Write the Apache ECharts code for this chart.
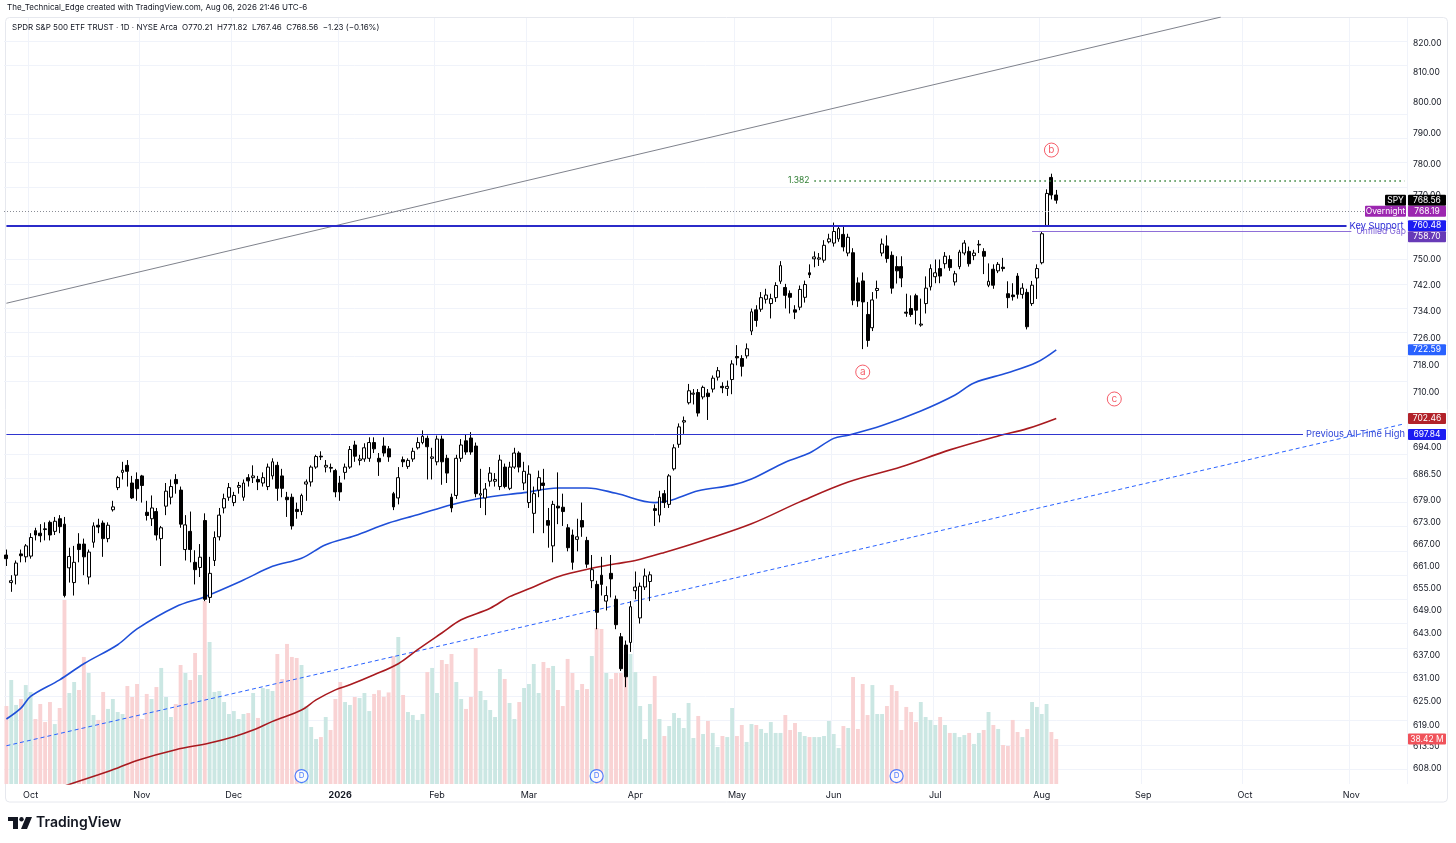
<!DOCTYPE html>
<html><head><meta charset="utf-8">
<script src="https://cdn.jsdelivr.net/npm/echarts@6/dist/echarts.min.js"></script>
<style>html,body{margin:0;padding:0;background:#fff}#c{width:1456px;height:843px}</style>
</head><body><div id="c"></div>
<script>
const FONT = 'Inter, "Noto Sans", sans-serif';
// ---------------- data ----------------
const open = [664,656.5,658.5,664.3,663.5,663.7,670.7,670,671.2,673,
670.5,674,672.5,660.5,656.5,667,667,658,667.5,672.2,
672.8,668.5,676.5,682.7,687,689,684,685,686,675.8,
674,676,668.5,677.5,680,685,682,665.5,670.5,662,
660.6,673.5,652.5,662.5,669,677,680,678.5,682.8,680,
685.5,685.5,685,684,683,686,689,686,680,680,
676.6,676,683.7,684.3,688.5,691.6,688.5,688.4,687.5,684,
687,688.5,694.8,690.4,690.8,691,695.5,691,694.5,693.7,
681,679.8,690.6,688.7,690.8,694,695.5,696.7,691,690,
696.5,691,680,680.5,691,696,696.8,694.5,680.6,679.8,
684.5,684.5,683,688.5,682.5,688.5,692.5,684,678.5,675.5,
682,684,673.5,666.5,677.5,677.2,671.5,669.5,668.3,673.5,
668,657,656,658.5,651.5,659,652,642,639.8,640.5,
654.3,647,655.3,656.8,676.8,675,681,678,688,695,
701.4,707,709.5,710,708.7,709.8,711,714.5,711.8,711.2,
713.8,720.6,720,720.8,728.2,734.6,734.8,737.8,736.5,738.3,
743.3,741.4,739.6,734.6,735.4,738.4,745.9,750.2,750.1,749.8,
755.5,755.1,756.4,757.8,752,752.1,742.8,743.4,733.2,729.2,
740.5,752,754.2,751.3,747.8,747.8,733.9,735,738.9,730,
736.5,741.6,744.7,747.2,748.7,750,743.1,747.8,752,752.5,
751.2,754.5,752.5,742.1,747,746.5,747.6,739.5,739.1,744.9,
739.3,739.9,736.5,744.3,749,760.6,775.8,770.21];
const high = [665.5,658.5,662.5,665.5,667,670,671.5,672.5,673,673.5,
674.5,675,674.5,666,666.5,670,668.5,665.5,673,674,
673.5,673,679,686,690,690.5,686,687,686.3,679,
680.5,677,672,684,685,686.5,683,675,676,665.3,
667,675.5,663.5,670.5,677,681,684,681.5,684.3,685,
686.5,689,686,687,689.5,691,690,688,681.5,681,
678.5,681,685,689,692,693,690.5,689.5,688,686,
689.5,694.5,696,692,695.3,697,697,692.5,697,694.5,
681.5,688.5,691.5,691,694,697,699,697.5,694,697.5,
697.5,692,681,692,696.5,697.8,698.5,695.5,688,684,
688.5,686.8,692,689.5,690,694,693,690,689,683,
687.5,688,677,679,687,681,672.5,671,674,678.5,
669,664,657,663.5,655.5,664,653,643,641,651.5,
659.5,656.5,660.3,659.5,678,681.8,682,686.5,695,701,
703,712.5,711,711,712,711,715,717.5,713,713.5,
719.5,724,721,724.5,735,736,740,741,739.5,743,
749.5,742.5,740.5,736,742,743.5,748.5,752.5,752,756,
758,761.5,760.5,760.3,758,753.5,744.5,746,737,740,
743.5,756.5,757.5,752.5,751,751,739.5,739,739.5,738,
744.8,748.5,750,750,752.3,751.3,746.5,753,756,754,
753,756,753.5,748.8,748.5,749.2,750.5,743.3,742.7,745.8,
742.7,741,743.4,748.5,758.7,772,777,771.82];
const low = [661,654,656,662,662,663,668,667.5,668,668,
669.5,670,652.5,656.5,653,662,658.5,656,666,670,
663.5,667.5,676,682,685,683,679.5,679,678.5,673.5,
672,668,661,675,678,681,671.5,662.5,662,656,
658,651.5,651,661,668,675.5,679,677.5,681,679,
683,684,682,683,682,685,679,680,674.5,671,
674,675,679,683,688,690.5,687,687,680,679,
685,688,690,689,690,690,692.5,686,691.5,690,
676.4,678,688.5,688,690,693.5,695,685,685,689,
683.5,684,675.8,679.5,690,692,692,680,677,675,
683,683,682,682.5,682,688,687,682,677,670,
680,670,666,662,672.5,672,665,660,665,669,
660.5,655,644,653,649,652.5,644,633,628.8,638,
652,645.5,654.5,651.5,672,673,677,677,687.5,694,
698,706.5,706.5,703,708,702,710,713.5,709.8,709,
709.5,718,714.7,720,727,729.5,734,736.5,732,737,
742.5,735,733.5,731.8,734.5,736.8,744.3,747.6,748,749,
755,754,755.5,752.5,751,736,735.5,722.8,723.5,728.2,
738,751,749,739.5,742.6,741.5,732.5,732.5,730.2,729.5,
733.5,740.5,742.7,742.7,747.2,746.5,742,747,751.3,747.8,
749.8,752,745.5,741.5,741,745.8,746.3,735.1,737.4,738,
738,728.7,735.8,737.9,748.5,760.5,768.8,767.46];
const close = [663,657,661.8,663.8,666.5,668.8,669.5,669.3,671,669.5,
673.3,671.8,653,663.6,662,665.5,663.5,664.8,672,671.7,
668.5,672.2,677.3,685.5,687.6,687.3,679.8,682.4,683.3,674.9,
677,669.5,671.5,681.7,683,683.8,672.5,672.3,665.5,660,
663.4,652,659,668.8,675,679.6,682.7,680.5,683.3,684,
684.6,686,684.3,685.5,688.5,690,682.5,682.5,679.3,672,
676,680.5,684.3,688.5,691.5,691.4,689,688.2,681.5,681.5,
688.5,693.5,691.6,690.8,694,695.5,693.7,690,692.5,691.4,
677.3,685.5,690,690.4,693,695.5,697.3,694.3,691.4,696.5,
690,686.8,677,691,694.8,692.8,692.8,681,681,682.3,
686.8,685,690.5,683,688.5,692.5,688.5,687.3,686.5,681,
685.5,683.3,672.2,678,677,676,666,662,669,671.7,
661.5,660,648.5,656,653,657.5,645.2,633.6,631.5,650,
655.3,655.5,658.3,658.6,676.3,680,678.5,686,694,700,
701.8,710.5,709.8,704,711.5,708.8,714.2,716.4,711.4,711.8,
718.4,720.2,717.7,722.9,734,731.4,738.3,739.1,738,742,
748.1,739,738.4,733.9,740.8,742.3,745.3,750.8,750.5,754.4,
756.4,758.7,759.6,753.9,756.9,737.5,737.3,737,725.4,737.6,
741.1,754.8,750.3,741.2,746.5,744.3,733.6,733.2,734.5,730.3,
741.2,747.2,745.9,744.9,751,747.5,745.6,752.3,755.1,748.7,
752,754.7,751,743.3,742.1,748.5,747.2,738.3,738.6,739.3,
741.2,729.5,742.1,747.2,758,770.7,770.2,768.56];
const volume = [66.6,88.8,67.5,72.6,84.5,78.6,55.5,68.3,52.9,70.0,
51.2,64.9,157.1,77.7,87.1,80.3,108.5,94.8,58.9,54.7,
78.6,64.1,72.6,61.5,59.8,83.7,74.3,85.4,55.5,76.9,
72.6,82.8,99.1,74.3,57.2,68.3,101.6,94.8,88.8,111.9,
93.1,156.3,121.3,78.6,79.4,70.0,59.8,62.3,55.5,59.8,
60.6,77.7,56.4,82.0,81.1,79.4,111.0,89.7,119.6,108.5,
107.6,101.6,66.6,48.7,38.4,40.1,57.2,46.1,72.6,87.1,
70.0,67.5,74.3,73.4,77.7,62.3,76.9,80.1,74.5,78.2,
109.3,125.5,76.0,61.5,58.9,54.7,59.8,95.6,99.1,77.7,
105.9,102.5,111.0,87.1,72.6,64.1,74.3,116.1,79.4,71.7,
63.2,57.2,98.2,89.7,69.2,55.5,70.0,82.0,85.4,102.5,
77.7,104.2,99.1,100.8,80.3,66.6,106.8,94.8,80.3,85.4,
81.1,109.3,133.2,132.4,94.8,89.7,94.8,94.8,111.0,111.0,
95.6,66.6,38.4,68.3,92.2,55.5,41.0,49.5,60.6,56.4,
47.8,69.2,39.3,58.1,42.7,53.8,43.6,31.6,41.0,40.1,
64.9,41.0,50.4,35.9,51.2,50.4,47.0,43.6,52.9,43.6,
43.6,58.9,46.1,52.1,44.4,41.0,40.1,40.1,40.1,41.0,
53.8,42.7,30.7,49.5,47.8,91.4,47.0,85.4,58.9,84.5,
59.8,59.8,66.6,84.5,79.4,46.1,65.8,61.5,52.9,70.0,
57.2,54.7,50.4,57.2,50.4,43.6,43.6,40.1,41.8,43.6,
34.2,43.6,46.1,61.5,50.4,47.0,33.3,32.5,54.7,44.4,
40.1,47.0,70.0,65.8,59.8,68.3,44.4,38.42];
// moving averages read at points: [bar index, price]
const smaBlue = [[0,620.6],[3,623.4],[5,626.4],[11,630.7],[16,634.9],[23,639.9],[27,644.1],[35,650.0],[41,652.7],[49,657.2],[55,660.9],[61,663.1],[66,666.8],[72,669.3],[79,672.8],[85,675.1],[92,677.9],[98,679.7],[107,681.3],[114,682.6],[120,682.6],[126,681.1],[134,678.5],[137,679.0],[143,681.8],[150,683.4],[154,685.1],[161,689.9],[166,692.5],[171,696.7],[174,697.6],[181,700.4],[189,704.6],[196,709.2],[200,712.8],[207,715.8],[213,718.9],[217,722.59]];
const smaRed = [[0,598.8],[14,604.5],[19,606.5],[23,608.2],[27,610.1],[35,612.8],[42,614.5],[47,616.1],[51,617.8],[55,620.0],[61,622.9],[64,625.5],[68,628.1],[71,629.4],[76,632.0],[81,634.9],[85,638.6],[90,643.0],[94,646.5],[100,649.6],[104,652.7],[108,654.8],[114,658.1],[121,660.4],[126,661.6],[130,662.5],[136,664.7],[144,668.0],[154,672.6],[164,678.7],[174,684.3],[185,688.6],[195,693.4],[205,697.4],[211,699.5],[217,702.46]];
const trendGrey = [[0,736.6],[251,828.8]];
const trendDashed = [[0,613.8],[289,700.9]];
const priceTicks = [820,810,800,790,780,770,750,742,734,726,718,710,694,686.5,679,673,667,661,655,649,643,637,631,625,619,613.5,608];
const waveNames = ['a','b','c'];
const waveIdx = [177,216,229];
const wavePrice = [716.0,784.6,708.1];
const divIdx = [61,122,184];
const holidays = ['2025-11-27','2025-12-25','2026-01-01','2026-01-19','2026-02-16','2026-04-03','2026-05-25','2026-06-19','2026-07-03','2026-09-07'];
const MONTHS = ['Jan','Feb','Mar','Apr','May','Jun','Jul','Aug','Sep','Oct','Nov','Dec'];
const lastPrice = 768.56, overnight = 768.19, keySupport = 760.48, gapLevel = 758.70, prevATH = 697.84, fibLevel = 774.7;
const smaBlueLast = 722.59, smaRedLast = 702.46, lastVolume = 38.42;
const axisMin = 604.2, axisMax = 828.83, volAxisMax = 655;

// ---------------- helpers ----------------
function tradingDays(start, count){
  const out=[]; const d=new Date(start+'T12:00:00Z');
  while(out.length<count){
    const wd=d.getUTCDay(); const s=d.toISOString().slice(0,10);
    if(wd!==0 && wd!==6 && holidays.indexOf(s)<0) out.push(s);
    d.setUTCDate(d.getUTCDate()+1);
  }
  return out;
}
const dates = tradingDays('2025-09-24', 290);
const L = Math.log;
const isMonthStart = (i) => i>0 && dates[i].slice(0,7)!==dates[i-1].slice(0,7);
const monthLabel = (v) => { const m=+v.slice(5,7); return m===1 ? '{y|'+v.slice(0,4)+'}' : MONTHS[m-1]; };

const candleData = open.map((o,i)=>[L(o),L(close[i]),L(low[i]),L(high[i])]);
const volData = volume.map((v,i)=>({value:v,itemStyle:{color: close[i]>=open[i] ? '#cbe7e3' : '#f9d3d4'}}));

const chart = echarts.init(document.getElementById('c'));
const option = {
  animation:false,
  backgroundColor:'#ffffff',
  textStyle:{fontFamily:FONT},
  grid:{left:4,right:49,top:17,bottom:59},
  xAxis:{type:'category',data:dates,boundaryGap:true,
    axisLine:{show:false},axisTick:{show:false},
    axisLabel:{interval:isMonthStart,formatter:monthLabel,color:'#131722',fontSize:9,margin:7,fontFamily:FONT,
      rich:{y:{fontWeight:'bold',fontSize:9,color:'#131722',fontFamily:FONT}}},
    splitLine:{show:true,interval:isMonthStart,lineStyle:{color:'#f0f3fa',width:1}}},
  yAxis:[
    {type:'value',position:'right',min:L(axisMin),max:L(axisMax),
     axisLine:{show:false},axisTick:{show:false},splitLine:{show:false},
     axisLabel:{customValues:priceTicks.map(L),formatter:v=>Math.exp(v).toFixed(2),color:'#131722',fontSize:8.5,margin:6,fontFamily:FONT}},
    {type:'value',min:0,max:volAxisMax,show:false}
  ],
  series:[
    {type:'bar',name:'Volume',yAxisIndex:1,data:volData,barWidth:'80%',z:2,silent:true},
    {type:'line',name:'dashed',data:trendDashed.map(p=>[p[0],L(p[1])]),showSymbol:false,z:3,silent:true,
      lineStyle:{color:'#2962ff',width:1,type:[4,3]},
      markLine:{silent:true,z:1,symbol:['none','none'],label:{show:false},lineStyle:{color:'#f0f3fa',width:1,type:'solid'},
        data:priceTicks.map(t=>({yAxis:L(t)}))}},
    {type:'line',name:'grey',data:trendGrey.map(p=>[p[0],L(p[1])]),showSymbol:false,z:3,silent:true,
      lineStyle:{color:'#7f828c',width:1}},
    {type:'line',name:'SMA blue',data:smaBlue.map(p=>[p[0],L(p[1])]),showSymbol:false,smooth:0.35,z:3,silent:true,
      lineStyle:{color:'#1f4fd8',width:1.6}},
    {type:'line',name:'SMA red',data:smaRed.map(p=>[p[0],L(p[1])]),showSymbol:false,smooth:0.35,z:3,silent:true,
      lineStyle:{color:'#a81a1f',width:1.6}},
    {type:'candlestick',name:'SPY',data:candleData,barWidth:'70%',z:4,silent:true,
      itemStyle:{color:'#ffffff',color0:'#000000',borderColor:'#000000',borderColor0:'#000000',borderWidth:1},
      markLine:{silent:true,z:6,symbol:['none','none'],label:{show:false},
        data:[
          {yAxis:L(lastPrice),lineStyle:{color:'#8a8d96',width:1,type:[1,2]}},
          [{coord:[167,L(fibLevel)],lineStyle:{color:'#2e7d32',width:1.5,type:[1.5,3.5]},
            label:{show:true,position:'start',formatter:'1.382',color:'#2e7d32',fontSize:8.5,distance:5,fontFamily:FONT}},{coord:[289,L(fibLevel)]}],
          [{coord:[212,L(gapLevel)],lineStyle:{color:'#8e6fd8',width:1,type:'solid'},
            label:{show:true,position:'end',formatter:'Unfilled Gap',color:'#7b5cd6',fontSize:8.5,distance:5,fontFamily:FONT}},{coord:[278,L(gapLevel)]}],
          [{coord:[0,L(keySupport)],lineStyle:{color:'#2b2bc9',width:2,type:'solid'},
            label:{show:true,position:'end',formatter:'Key Support',color:'#2b2bd6',fontSize:9.3,distance:3,fontFamily:FONT}},{coord:[277,L(keySupport)]}],
          [{coord:[0,L(prevATH)],lineStyle:{color:'#2f35cf',width:1,type:'solid'},
            label:{show:true,position:'end',formatter:'Previous All Time High',color:'#2f45d8',fontSize:9.3,distance:3,fontFamily:FONT}},{coord:[268,L(prevATH)]}]
        ]}},
    {type:'scatter',name:'waves',data:waveIdx.map((x,i)=>({value:[x,L(wavePrice[i])],name:waveNames[i]})),
      symbol:'circle',symbolSize:14,z:7,silent:true,
      itemStyle:{color:'rgba(255,255,255,0)',borderColor:'#f23645',borderWidth:1},
      label:{show:true,position:'inside',formatter:p=>p.name,color:'#f23645',fontSize:10,fontFamily:FONT}},
    {type:'scatter',name:'dividends',yAxisIndex:1,data:divIdx.map(x=>[x,6.8]),
      symbol:'circle',symbolSize:13,z:7,silent:true,
      itemStyle:{color:'#ffffff',borderColor:'#2962ff',borderWidth:1.2},
      label:{show:true,position:'inside',formatter:'D',color:'#2962ff',fontSize:8,fontFamily:FONT}}
  ]
};
chart.setOption(option);

// ---------------- axis badges & texts ----------------
const yPx = v => chart.convertToPixel({yAxisIndex:0}, L(v));
const yVol = v => chart.convertToPixel({yAxisIndex:1}, v);
const G = [];
function badge(text, y, bg, x, w){
  G.push({type:'rect',z:100,shape:{x:x,y:y-5.5,width:w,height:11,r:1},style:{fill:bg}});
  G.push({type:'text',z:101,x:x+w/2,y:y,style:{text:text,fill:'#ffffff',font:'8.5px '+FONT,align:'center',verticalAlign:'middle',textAlign:'center',textVerticalAlign:'middle'}});
}
const ySpy = yPx(lastPrice);
badge('SPY', ySpy, '#000000', 1385, 21);
badge(lastPrice.toFixed(2), ySpy, '#000000', 1408, 38);
const yOn = Math.max(yPx(overnight), ySpy+11);
badge('Overnight', yOn, '#9c27b0', 1365, 41);
badge(overnight.toFixed(2), yOn, '#9c27b0', 1408, 38);
const yKs = yPx(keySupport);
badge(keySupport.toFixed(2), yKs, '#1c1cf2', 1408, 38);
badge(gapLevel.toFixed(2), Math.max(yPx(gapLevel), yKs+11), '#673ab7', 1408, 38);
badge(smaBlueLast.toFixed(2), yPx(smaBlueLast), '#2962ff', 1408, 38);
badge(smaRedLast.toFixed(2), yPx(smaRedLast), '#b2222a', 1408, 38);
badge(prevATH.toFixed(2), yPx(prevATH), '#1c1cf2', 1408, 38);
badge(lastVolume.toFixed(2)+' M', yVol(lastVolume), '#f0525a', 1408, 38);

// frame
G.push({type:'rect',z:0,shape:{x:5.5,y:17.5,width:1442,height:784.5,r:4},style:{fill:'none',stroke:'#e6e8ee',lineWidth:1}});
// header texts
G.push({type:'text',z:50,x:7,y:8,style:{text:'The_Technical_Edge created with TradingView.com, Aug 06, 2026 21:46 UTC-6',fill:'#131722',font:'8px '+FONT,verticalAlign:'middle',textVerticalAlign:'middle'}});
G.push({type:'text',z:50,x:12,y:28,style:{text:'SPDR S&P 500 ETF TRUST · 1D · NYSE Arca  O770.21  H771.82  L767.46  C768.56  −1.23 (−0.16%)',fill:'#131722',font:'8px '+FONT,verticalAlign:'middle',textVerticalAlign:'middle'}});
// TradingView logo
G.push({type:'rect',z:50,shape:{x:8,y:817,width:10,height:4},style:{fill:'#131722'}});
G.push({type:'rect',z:50,shape:{x:13,y:817,width:5,height:12},style:{fill:'#131722'}});
G.push({type:'circle',z:50,shape:{cx:21.5,cy:819.2,r:2.2},style:{fill:'#131722'}});
G.push({type:'polygon',z:50,shape:{points:[[26,817],[32,817],[27,829],[21,829]]},style:{fill:'#131722'}});
G.push({type:'text',z:50,x:36,y:823,style:{text:'TradingView',fill:'#131722',font:'600 14px '+FONT,verticalAlign:'middle',textVerticalAlign:'middle'}});
chart.setOption({graphic:G});
</script></body></html>
